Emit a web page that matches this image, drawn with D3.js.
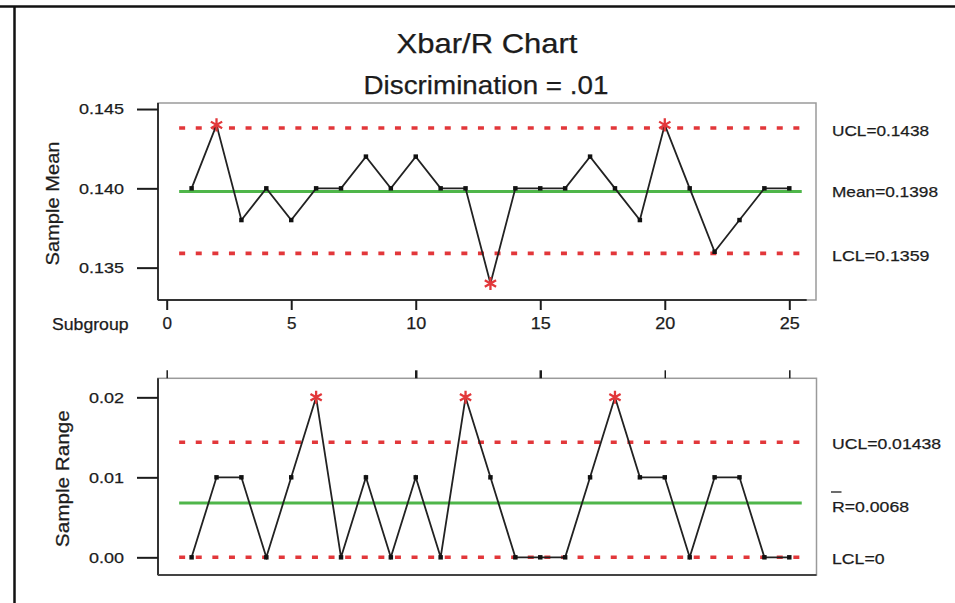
<!DOCTYPE html>
<html>
<head>
<meta charset="utf-8">
<script src="https://cdn.jsdelivr.net/npm/d3@7"></script>
<style>
  html, body { margin: 0; padding: 0; background: #fff; }
  svg { display: block; font-family: "Liberation Sans", Arial, sans-serif; }
  text { fill: #1c1c1c; stroke: #1c1c1c; stroke-width: 0.25px; }
</style>
</head>
<body>
<svg id="chart" width="955" height="603"></svg>
<script>
// ---- data ----
const subgroups = d3.range(1, 26);
const sampleMeans = [0.140, 0.144, 0.138, 0.140, 0.138, 0.140, 0.140, 0.142, 0.140, 0.142,
                     0.140, 0.140, 0.134, 0.140, 0.140, 0.140, 0.142, 0.140, 0.138, 0.144,
                     0.140, 0.136, 0.138, 0.140, 0.140];
const sampleRanges = [0.00, 0.01, 0.01, 0.00, 0.01, 0.02, 0.00, 0.01, 0.00, 0.01,
                      0.00, 0.02, 0.01, 0.00, 0.00, 0.00, 0.01, 0.02, 0.01, 0.01,
                      0.00, 0.01, 0.01, 0.00, 0.00];
const meanLimits = { ucl: 0.1438, center: 0.1398, lcl: 0.1359 };
const rangeLimits = { ucl: 0.01438, center: 0.0068, lcl: 0 };
const meanTicks = [0.135, 0.140, 0.145];
const rangeTicks = [0.00, 0.01, 0.02];
const subgroupTicks = [0, 5, 10, 15, 20, 25];
const rangeTopTicks = [0, 10, 15, 20, 25];
const titleText = "Xbar/R Chart";
const subtitleText = "Discrimination = .01";

// ---- styling ----
const RED = "#e2373a";
const GREEN = "#4fb64a";
const INK = "#1c1c1c";

const svg = d3.select("#chart");

// outer border of the graph window
svg.append("line").attr("x1", 0).attr("x2", 955).attr("y1", 6.5).attr("y2", 6.5)
  .attr("stroke", "#111").attr("stroke-width", 2.5);
svg.append("line").attr("x1", 14.5).attr("x2", 14.5).attr("y1", 6).attr("y2", 603)
  .attr("stroke", "#111").attr("stroke-width", 2.5);

// text helper: fixed width so glyphs fill their box
function label(g, str, x, y, size, width, anchor) {
  const t = g.append("text").attr("x", x).attr("y", y)
    .attr("font-size", size).attr("text-anchor", anchor || "start").text(str);
  if (width) t.attr("textLength", width).attr("lengthAdjust", "spacingAndGlyphs");
  return t;
}

label(svg, titleText, 487, 52.5, 27.5, 181, "middle");
label(svg, subtitleText, 486, 93.5, 26, 245, "middle");

const x = d3.scaleLinear().domain([0, 25]).range([166.7, 789.3]);

// asterisk marker (fallback if the symbol type is missing)
const asteriskType = d3.symbolAsterisk || {
  draw(ctx, size) {
    const r = Math.sqrt(size) * 0.6;
    for (let k = 0; k < 3; k++) {
      const a = Math.PI / 2 + k * Math.PI / 3;
      ctx.moveTo(r * Math.cos(a), r * Math.sin(a));
      ctx.lineTo(-r * Math.cos(a), -r * Math.sin(a));
    }
  }
};

function panel(opts) {
  const { top, bottom, left, right, y, values, limits, ticks, fmt, tickLabelW,
          yTitle, yTitleX, yTitleW, limitLabels } = opts;
  const g = svg.append("g");

  // frame
  g.append("rect").attr("x", left).attr("y", top)
    .attr("width", right - left).attr("height", bottom - top)
    .attr("fill", "none").attr("stroke", "#9a9a9a").attr("stroke-width", 1.5);
  g.append("line").attr("x1", left).attr("x2", left).attr("y1", top).attr("y2", bottom)
    .attr("stroke", "#333").attr("stroke-width", 2);

  // y axis
  const ya = g.append("g").attr("transform", `translate(${left},0)`)
    .call(d3.axisLeft(y).tickValues(ticks).tickSize(21).tickPadding(13).tickFormat(fmt));
  ya.select(".domain").remove();
  ya.selectAll(".tick line").attr("stroke", INK).attr("stroke-width", 2);
  ya.selectAll(".tick text").attr("font-size", 15).attr("fill", INK)
    .attr("font-family", "Liberation Sans, Arial, sans-serif")
    .attr("textLength", d => tickLabelW(d)).attr("lengthAdjust", "spacingAndGlyphs");

  // y title
  g.append("text")
    .attr("transform", `translate(${yTitleX},${(top + bottom) / 2 + 2}) rotate(-90)`)
    .attr("text-anchor", "middle").attr("font-size", 18)
    .attr("textLength", yTitleW).attr("lengthAdjust", "spacingAndGlyphs")
    .text(yTitle);

  // control limits
  const x0 = x(0.5), x1 = x(25.5);
  [limits.ucl, limits.lcl].forEach(v => {
    g.append("line").attr("x1", x0).attr("x2", x1).attr("y1", y(v)).attr("y2", y(v))
      .attr("stroke", RED).attr("stroke-width", 3.6).attr("stroke-dasharray", "6,10.6");
  });
  g.append("line").attr("x1", x0).attr("x2", x1)
    .attr("y1", y(limits.center)).attr("y2", y(limits.center))
    .attr("stroke", GREEN).attr("stroke-width", 3);

  // series
  const pts = subgroups.map((s, i) => ({ s, v: values[i] }));
  g.append("path").datum(pts)
    .attr("d", d3.line().x(d => x(d.s)).y(d => y(d.v)))
    .attr("fill", "none").attr("stroke", "#222").attr("stroke-width", 1.8);
  const out = d => d.v > limits.ucl || d.v < limits.lcl;
  g.selectAll(".pt").data(pts.filter(d => !out(d))).enter().append("path")
    .attr("transform", d => `translate(${x(d.s)},${y(d.v)})`)
    .attr("d", d3.symbol().type(d3.symbolSquare).size(20))
    .attr("fill", "#111");
  g.selectAll(".oc").data(pts.filter(out)).enter().append("path")
    .attr("transform", d => `translate(${x(d.s)},${y(d.v)})`)
    .attr("d", d3.symbol().type(asteriskType).size(120))
    .attr("fill", "none").attr("stroke", RED).attr("stroke-width", 2.3);

  // limit labels
  limitLabels.forEach(l => label(g, l.text, 832, l.y, 15.5, l.w));
  return g;
}

// ---- Xbar panel ----
const yMean = d3.scaleLinear().domain([0.13296, 0.14538]).range([300, 103]);
panel({
  top: 103, bottom: 300, left: 158, right: 816, y: yMean,
  values: sampleMeans, limits: meanLimits, ticks: meanTicks,
  fmt: d3.format(".3f"), tickLabelW: () => 45,
  yTitle: "Sample Mean", yTitleX: 59, yTitleW: 124,
  limitLabels: [
    { text: "UCL=" + meanLimits.ucl, y: 135.5, w: 97 },
    { text: "Mean=" + meanLimits.center, y: 197, w: 106 },
    { text: "LCL=" + meanLimits.lcl, y: 260.5, w: 97.5 }
  ]
});
// subgroup axis under the Xbar panel
const xa = svg.append("g").attr("transform", "translate(0,300)")
  .call(d3.axisBottom(x).tickValues(subgroupTicks).tickSize(10).tickPadding(8));
xa.select(".domain").attr("d", `M158,0H806.7`).attr("stroke", "#333").attr("stroke-width", 2);
xa.selectAll(".tick line").attr("stroke", INK).attr("stroke-width", 2);
xa.selectAll(".tick text").attr("font-size", 16).attr("fill", INK)
  .attr("font-family", "Liberation Sans, Arial, sans-serif")
  .attr("textLength", d => d < 10 ? 9.5 : 20).attr("lengthAdjust", "spacingAndGlyphs");
label(svg, "Subgroup", 52, 329.5, 16, 76.5);

// ---- R panel ----
const yRange = d3.scaleLinear().domain([-0.00221, 0.02238]).range([575, 378.3]);
panel({
  top: 378.3, bottom: 575, left: 158, right: 816.5, y: yRange,
  values: sampleRanges, limits: rangeLimits, ticks: rangeTicks,
  fmt: d3.format(".2f"), tickLabelW: () => 35,
  yTitle: "Sample Range", yTitleX: 69, yTitleW: 137,
  limitLabels: [
    { text: "UCL=" + rangeLimits.ucl, y: 449, w: 109 },
    { text: "R=" + rangeLimits.center, y: 511.5, w: 77 },
    { text: "LCL=" + rangeLimits.lcl, y: 564, w: 52.5 }
  ]
});
svg.append("line").attr("x1", 831).attr("x2", 841.5).attr("y1", 492).attr("y2", 492)
  .attr("stroke", INK).attr("stroke-width", 1.3);
svg.append("line").attr("x1", 158).attr("x2", 816.5).attr("y1", 575).attr("y2", 575)
  .attr("stroke", "#444").attr("stroke-width", 2);
// ticks above the R panel
const xt = svg.append("g").attr("transform", "translate(0,378.3)")
  .call(d3.axisTop(x).tickValues(rangeTopTicks).tickSize(8).tickFormat(""));
xt.select(".domain").remove();
xt.selectAll(".tick line").attr("stroke", INK).attr("stroke-width", (d) => (d === 10 || d === 15) ? 2.5 : 1.5);
</script>
</body>
</html>
